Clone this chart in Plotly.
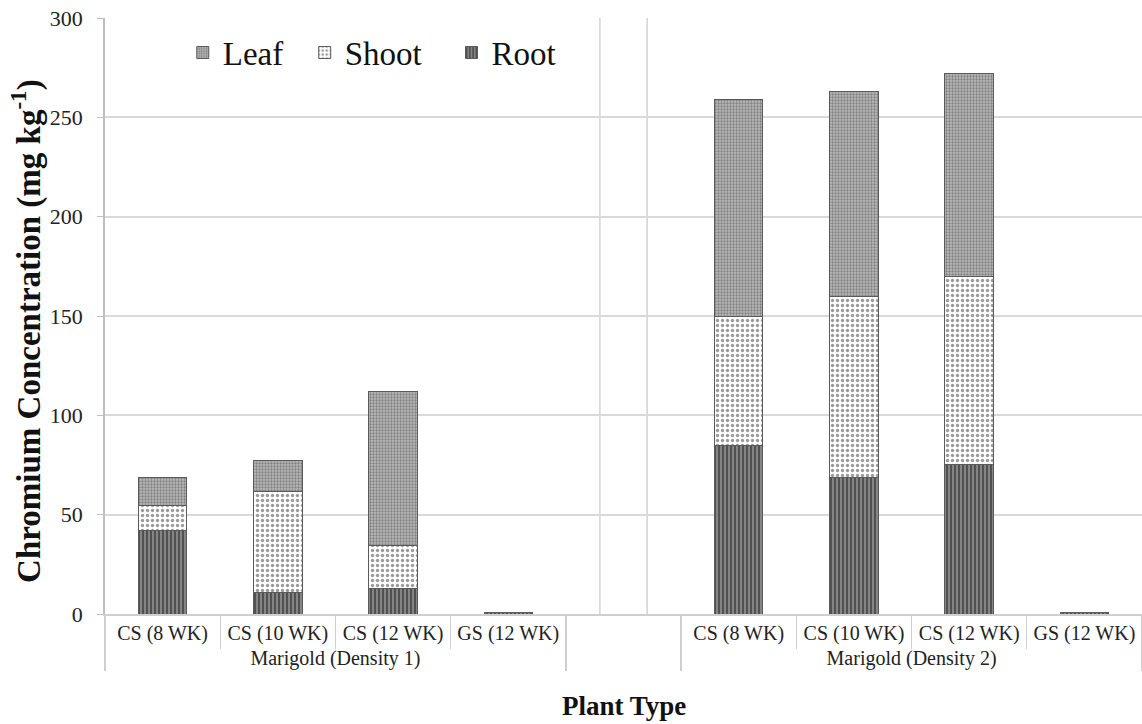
import plotly.graph_objects as go

groups = ["Marigold (Density 1)"] * 4 + [" "] + ["Marigold (Density 2)"] * 4
categories = ["CS (8 WK)", "CS (10 WK)", "CS (12 WK)", "GS (12 WK)", " ",
              "CS (8 WK)", "CS (10 WK)", "CS (12 WK)", "GS (12 WK)"]

root = [41.8, 10.7, 12.6, 1.0, None, 84.6, 68.5, 75.5, 1.0]
shoot = [12.7, 51.2, 21.8, 0, None, 65.4, 91.5, 94.3, 0]
leaf = [14.0, 15.5, 77.8, 0, None, 109.0, 103.2, 102.4, 0]

series_names = ["Root", "Shoot", "Leaf"]
y_ticks = [0, 50, 100, 150, 200, 250, 300]

SERIF = "Liberation Serif, Times New Roman, serif"

fig = go.Figure()
outline = dict(color="#5a5a5a", width=1)
fig.add_trace(go.Bar(
    name=series_names[0], x=[groups, categories], y=root,
    marker=dict(color="#808080", line=outline,
                pattern=dict(shape="|", fgcolor="#3a3a3a", bgcolor="#858585",
                             size=4, solidity=0.35, fillmode="replace")),
))
fig.add_trace(go.Bar(
    name=series_names[1] + "\u00a0\u00a0\u00a0", x=[groups, categories], y=shoot,
    marker=dict(color="white", line=outline,
                pattern=dict(shape=".", fgcolor="#9a9a9a", bgcolor="white",
                             size=5, solidity=0.35, fillmode="replace")),
))
fig.add_trace(go.Bar(
    name=series_names[2] + "\u00a0\u00a0", x=[groups, categories], y=leaf,
    marker=dict(color="#b4b4b4", line=outline,
                pattern=dict(shape=".", fgcolor="#808080", bgcolor="#bababa",
                             size=3, solidity=0.45, fillmode="replace")),
))

gap_l = (4.5 - 0.205) / 9
gap_r = (4.5 + 0.205) / 9
shapes = [
    dict(type="rect", xref="paper", yref="y", x0=gap_l, x1=gap_r, y0=0, y1=297,
         fillcolor="white", line=dict(width=0), layer="between"),
    dict(type="line", xref="paper", yref="y", x0=gap_l, x1=gap_l, y0=0, y1=300,
         line=dict(color="#d4d4d4", width=1.5), layer="between"),
    dict(type="line", xref="paper", yref="y", x0=gap_r, x1=gap_r, y0=0, y1=300,
         line=dict(color="#d4d4d4", width=1.5), layer="between"),
]

fig.update_layout(
    width=1142, height=724,
    margin=dict(l=105, r=0, t=18, b=110),
    paper_bgcolor="white", plot_bgcolor="white",
    barmode="stack", bargap=0.58,
    font=dict(family=SERIF, color="#222"),
    shapes=shapes,
    legend=dict(orientation="h", traceorder="reversed",
                x=0.075, y=0.942, xanchor="left", yanchor="middle",
                font=dict(family=SERIF, size=33, color="#111"),
                bgcolor="rgba(0,0,0,0)", itemwidth=30),
    xaxis=dict(type="multicategory", showgrid=False,
               showline=True, linecolor="#cfcfcf", linewidth=1.5,
               ticks="outside", tickson="boundaries", ticklen=33, tickcolor="#cfcfcf",
               showdividers=True, dividercolor="#cfcfcf", dividerwidth=1.5,
               tickfont=dict(family=SERIF, size=20, color="#222")),
    yaxis=dict(range=[0, 300], tickvals=y_ticks, showgrid=True, gridcolor="#d9d9d9",
               gridwidth=1.5, showline=True, linecolor="#bfbfbf", linewidth=1.5,
               ticks="outside", ticklen=6, tickcolor="#bfbfbf",
               zeroline=False, ticklabelstandoff=10,
               tickfont=dict(family=SERIF, size=22, color="#222")),
    annotations=[
        dict(text="<b>Chromium Concentration (mg kg<sup>-1</sup>)</b>",
             xref="paper", yref="paper", x=-0.0752, y=0.475,
             xanchor="center", yanchor="middle", textangle=-90,
             showarrow=False, font=dict(family=SERIF, size=33, color="#111")),
        dict(text="<b>Plant Type</b>",
             xref="paper", yref="paper", x=0.5, y=-0.154,
             xanchor="center", yanchor="middle",
             showarrow=False, font=dict(family=SERIF, size=27, color="#111")),
    ],
)

fig.write_html("out.html")
